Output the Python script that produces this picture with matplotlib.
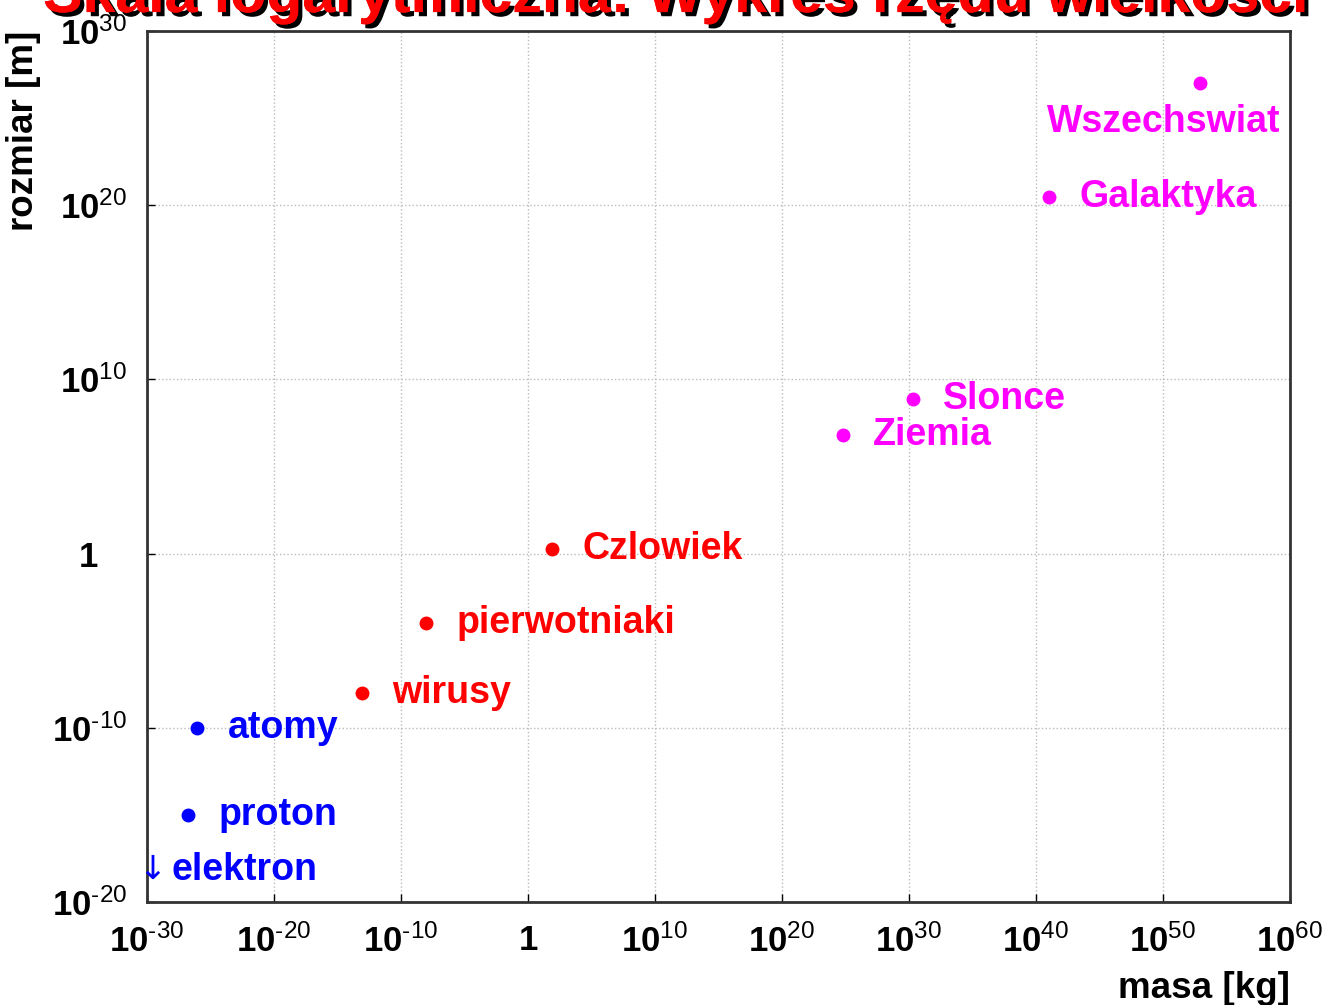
import numpy as np
import matplotlib.pyplot as plt
from matplotlib import patheffects as pe

plt.rcParams['font.family'] = ['Liberation Sans', 'DejaVu Sans']
plt.rcParams['mathtext.fontset'] = 'custom'
plt.rcParams['mathtext.rm'] = 'Liberation Sans'
plt.rcParams['mathtext.it'] = 'Liberation Sans'
plt.rcParams['mathtext.bf'] = 'Liberation Sans:bold'

# Dane (masa [kg], rozmiar [m])
nazwy = ['Wszechswiat', 'Galaktyka', 'Slonce', 'Ziemia', 'Czlowiek',
         'pierwotniaki', 'wirusy', 'atomy', 'proton']
masa = [8e52, 1e41, 2e30, 6e24, 80, 1e-8, 8e-14, 9e-27, 1.67e-27]
rozmiar = [1e27, 3e20, 7e8, 6e6, 1.8, 1e-4, 1e-8, 1e-10, 1e-15]
kolory = ['#ff00ff', '#ff00ff', '#ff00ff', '#ff00ff', '#ff0000',
          '#ff0000', '#ff0000', '#0000ff', '#0000ff']

# elektron: tylko strzalka (wartosc ponizej osi)
elektron_x, elektron_y = 2.5e-30, 7e-19

xticks = [1e-30, 1e-20, 1e-10, 1, 1e10, 1e20, 1e30, 1e40, 1e50, 1e60]
xexp = ['-30', '-20', '-10', None, '10', '20', '30', '40', '50', '60']
yticks = [1e-20, 1e-10, 1, 1e10, 1e20, 1e30]
yexp = ['-20', '-10', None, '10', '20', '30']


def etykieta(e, pusty='1'):
    if e is None:
        return pusty
    return r'$\mathbf{10}^{\mathrm{%s}}$' % e.replace('-', '\u2010')


fig = plt.figure(figsize=(13.29, 10.05), dpi=100)
ax = fig.add_axes([0.1106, 0.1025, 0.8601, 0.8667])
ax.set_xscale('log')
ax.set_yscale('log')
ax.set_xlim(1e-30, 1e60)
ax.set_ylim(1e-20, 1e30)

for n, m, r, k in zip(nazwy, masa, rozmiar, kolory):
    ax.plot(m, r, 'o', color=k, markersize=9, zorder=3)
    if n == 'Wszechswiat':
        ax.annotate(n, (m, r), xytext=(-26, -28), textcoords='offset points',
                    ha='center', va='center', color=k, fontsize=27, fontweight='bold')
    else:
        ax.annotate(n, (m, r), xytext=(22, 0), textcoords='offset points',
                    ha='left', va='center', color=k, fontsize=27, fontweight='bold')

ax.text(elektron_x, elektron_y, '↓', color='#0000ff', fontsize=24,
        ha='center', va='center', family=['DejaVu Sans'])
ax.annotate('elektron', (elektron_x, elektron_y), xytext=(14, 0),
            textcoords='offset points', ha='left', va='center',
            color='#0000ff', fontsize=27, fontweight='bold')

ax.set_xticks(xticks)
ax.set_xticklabels([etykieta(e) for e in xexp])
ax.set_yticks(yticks)
ax.set_yticklabels([etykieta(e, '1   ') for e in yexp])
for t in ax.get_xticklabels() + ax.get_yticklabels():
    t.set_fontweight('bold')
ax.minorticks_off()
ax.tick_params(axis='both', direction='in', length=6, width=1, labelsize=25)
ax.tick_params(axis='x', pad=16)
ax.tick_params(axis='y', pad=14)
ax.grid(True, color='#bbbbbb', linestyle=':', linewidth=1)
for s in ax.spines.values():
    s.set_linewidth(2)
    s.set_color('#333333')

ax.set_xlabel('masa [kg]', loc='right', fontsize=26.5, fontweight='bold', labelpad=9)
ax.set_ylabel('rozmiar [m]', loc='top', fontsize=26.5, fontweight='bold', labelpad=8)

fig.text(0.508, 0.988, 'Skala logarytmiczna: Wykres rzędu wielkości',
         ha='center', va='baseline', color='#ff0000', fontsize=42.5, fontweight='bold',
         path_effects=[pe.withSimplePatchShadow(offset=(3, -3), shadow_rgbFace='black', alpha=1.0),
                       pe.Normal()])

fig.savefig('out.png', dpi=100)
